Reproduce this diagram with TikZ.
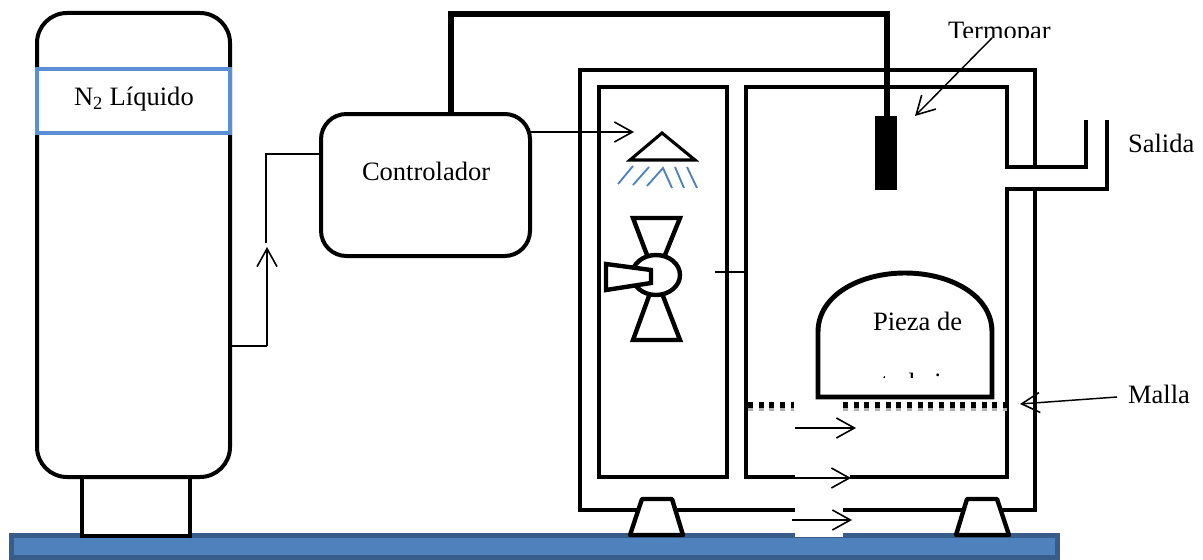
\documentclass[tikz,border=0pt]{standalone}
\usepackage{fontspec}
\setmainfont{Liberation Serif}
\usetikzlibrary{arrows.meta}
\definecolor{baseedge}{HTML}{385D8A}
\definecolor{basefill}{HTML}{4F81BD}
\definecolor{bluebox}{HTML}{5B8FD5}
\tikzset{
  x=0.75pt,y=-0.75pt,
  wall/.style={line width=3.7pt,draw=black,line join=miter},
  inwall/.style={line width=3.3pt,draw=black,line join=miter},
  thin1/.style={line width=1.1pt,draw=black},
  barb/.style={-{Straight Barb[length=13.5pt,width=15pt,line width=1.2pt]}},
  lab/.style={anchor=base west,inner sep=0pt,outer sep=0pt,font=\fontsize{19.9pt}{24pt}\selectfont,text=black},
  box/.style={draw=black,line width=3pt,fill=white,inner sep=0pt,outer sep=0pt,anchor=north west},
  mesh/.style={line width=4pt,draw=black,dash pattern=on 3.7pt off 4.3pt},
  meshg/.style={line width=2.6pt,draw=black!30,dash pattern=on 3.7pt off 4.3pt},
  fanpart/.style={line width=3.3pt,draw=black,fill=white,line join=miter},
  spray/.style={line width=1.4pt,draw=basefill},
}
\begin{document}
\begin{tikzpicture}
\useasboundingbox (0,0) rectangle (1203,560);
% base
\node[draw=baseedge,line width=3.75pt,fill=basefill,minimum width=784.5pt,minimum height=16.5pt,inner sep=0pt,outer sep=0pt,anchor=north west] (base) at (11.5,535.5) {};
\fill[white] (795,531) rectangle (843,537);
% tank
\node[box,minimum width=81pt,minimum height=44pt] (foot) at (82,477) {};
\node[box,rounded corners=22.5pt,minimum width=144.75pt,minimum height=348pt] (tank) at (37,13) {};
\node[box,draw=bluebox,line width=3.2pt,minimum width=144.75pt,minimum height=48pt] (n2) at (37,69) {};
\node[lab] (n2t) at (74,105) {N\textsubscript{2} Líquido};
% controller
\node[box,rounded corners=19pt,minimum width=156.75pt,minimum height=106.5pt] (ctrl) at (321,114) {};
\node[lab] (ctrlt) at (362,180) {Controlador};
% chamber outer wall
\draw[wall] (1035,190) -- (1035,510) -- (843,510);
\draw[wall] (795,510) -- (580,510) -- (580,70) -- (1035,70) -- (1035,168);
% chamber left compartment
\node[box,line width=3.3pt,minimum width=96pt,minimum height=292.5pt,fill=none] (left) at (599,87) {};
% right compartment
\draw[inwall] (795,477) -- (746,477) -- (746,87) -- (1007,87) -- (1007,167) -- (1086,167) -- (1086,120);
\draw[inwall] (1107,120) -- (1107,189) -- (1007,189) -- (1007,477) -- (850,477);
% feet
\draw[fanpart,line join=round] (630,535) -- (642,499) -- (672,499) -- (683,535) -- cycle;
\draw[fanpart,line join=round] (956,535) -- (967,499) -- (997,499) -- (1009,535) -- cycle;
% probe
\node[draw=black,fill=black,minimum width=15.75pt,minimum height=54.75pt,inner sep=0pt,outer sep=0pt,anchor=north west] (probe) at (875,116) {};
\draw[line width=4pt,line join=miter] (ctrl.north -| 451,0) -- (451,14) -- (887,14) -- (887,116);
% tank to controller
\coordinate (up) at (267,247);
\coordinate (gap) at (266,243);
\draw[thin1] (230,346) -- (267,346);
\draw[thin1,barb] (267,346) -- (up);
\draw[thin1] (gap) -- (266,154) -- (321,154);
% controller to shower
\coordinate (sh) at (634,132);
\draw[thin1,barb] (530,132) -- (sh);
% shower
\draw[line width=2.3pt,line join=miter] (630,160) -- (662,133) -- (695,160) -- cycle;
\draw[spray] (633,166) -- (618,184);
\draw[spray] (649,167) -- (633,185);
\draw[spray] (647,186) -- (663,168) -- (672,188);
\draw[spray] (675,167) -- (684,188);
\draw[spray] (687,167) -- (697,188);
% fan
\draw[fanpart] (647,255) -- (633,218) -- (680,218) -- (665,255);
\draw[fanpart] (649,296) -- (633,340) -- (680,340) -- (663,296);
\draw[fanpart] (656,275) ellipse [x radius=24,y radius=20];
\draw[fanpart] (606,264) -- (651,270) -- (651,283) -- (606,290) -- cycle;
\coordinate (sep) at (746,272);
\draw[thin1] (715,272) -- (sep);
% workpiece
\draw[line width=3.7pt,line join=miter] (818,397) -- (818,332) .. controls (818,295) and (860,273) .. (905,273) .. controls (950,273) and (992,295) .. (992,332) -- (992,397) -- cycle;
\node[lab] (pieza) at (873,330) {Pieza de};
\begin{scope}
\clip (860,360) rectangle (960,377.5);
\node[lab] (trab) at (881,391) {trabajo};
\end{scope}
% mesh
\draw[meshg] (748,409.5) -- (794,409.5);
\draw[meshg] (843,409.5) -- (1007,409.5);
\draw[mesh] (748,405) -- (794,405);
\draw[mesh] (843,405) -- (1007,405);
% air arrows
\coordinate (a1) at (856,428);
\coordinate (a2) at (851,478);
\coordinate (a3) at (852,520);
\draw[thin1,barb] (795,428) -- (a1);
\draw[thin1,barb] (795,478) -- (a2);
\draw[thin1,barb] (792,520) -- (a3);
% thermocouple label
\begin{scope}
\clip (940,15) rectangle (1060,37.5);
\node[lab] (term) at (948,39.5) {Termopar};
\end{scope}
\coordinate (tp) at (915,116);
\draw[thin1,barb] (992,38) -- (tp);
% labels
\node[lab] (sal) at (1128,152) {Salida};
\node[lab] (mal) at (1128,403) {Malla};
\coordinate (mp) at (1020,404);
\draw[thin1,barb] (1117,397) -- (mp);
\end{tikzpicture}
\end{document}
